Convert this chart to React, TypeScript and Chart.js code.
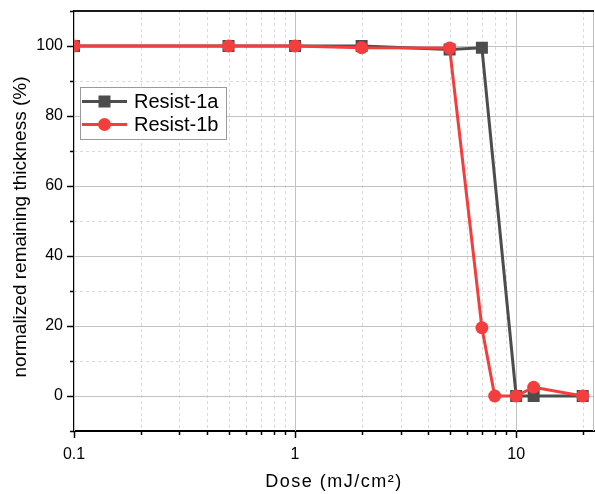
import React, { useEffect, useRef } from 'react';
import { Chart, registerables } from 'chart.js';

Chart.register(...registerables);

// Dose (mJ/cm2) and normalized remaining thickness (%) for each resist
const doseA = [0.1, 0.5, 1, 2, 5, 7, 10, 12, 20];
const thickA = [100, 100, 100, 100, 99, 99.5, 0, 0, 0];
const doseB = [0.1, 0.5, 1, 2, 5, 7, 8, 10, 12, 20];
const thickB = [100, 100, 100, 99.5, 99.4, 19.5, 0, 0, 2.5, 0];
const seriesNames = ['Resist-1a', 'Resist-1b'];
const seriesColors = ['#4d4d4d', '#f43d3d'];

const xTickLabels = [0.1, 1, 10];
const yTickLabels = [0, 20, 40, 60, 80, 100];
const xTitle = 'Dose (mJ/cm²)';
const yTitle = 'normalized remaining thickness (%)';

const X_MIN = 0.1;
const X_MAX = 22.5;
const Y_MIN = -10;
const Y_MAX = 110;

const FONT = "'Liberation Sans', Arial, sans-serif";

const isDecade = (v: number) => xTickLabels.some((d) => Math.abs(d - v) / d < 1e-6);
const isMajorY = (v: number) => yTickLabels.includes(v);

// Log-axis positions 1..9 x 10^n inside the axis range
function logPositions(): number[] {
  const out: number[] = [];
  for (let e = -1; e <= 1; e++) {
    for (let k = 1; k <= 9; k++) {
      const v = Number((k * Math.pow(10, e)).toPrecision(6));
      if (v >= X_MIN && v <= X_MAX) out.push(v);
    }
  }
  return out;
}

function linPositions(): number[] {
  const out: number[] = [];
  for (let v = Y_MIN; v <= Y_MAX; v += 10) out.push(v);
  return out;
}

const zeroPadding = (s: any) => {
  s.paddingLeft = 0;
  s.paddingRight = 0;
  s.paddingTop = 0;
  s.paddingBottom = 0;
};

const framePlugin = {
  id: 'frame',
  beforeDatasetsDraw(chart: any) {
    const { ctx, chartArea: a, scales } = chart;
    const x = scales.x;
    const y = scales.y;
    ctx.save();
    ctx.lineWidth = 1;

    // dashed minor grid
    ctx.strokeStyle = '#dadada';
    ctx.setLineDash([3, 3]);
    logPositions().forEach((v) => {
      if (isDecade(v)) return;
      const px = Math.round(x.getPixelForValue(v)) + 0.5;
      ctx.beginPath();
      ctx.moveTo(px, a.top);
      ctx.lineTo(px, a.bottom);
      ctx.stroke();
    });
    linPositions().forEach((v) => {
      if (isMajorY(v) || v === Y_MIN || v === Y_MAX) return;
      const py = Math.round(y.getPixelForValue(v)) + 0.5;
      ctx.beginPath();
      ctx.moveTo(a.left, py);
      ctx.lineTo(a.right, py);
      ctx.stroke();
    });

    // solid major grid
    ctx.setLineDash([]);
    ctx.strokeStyle = '#c2c2c2';
    xTickLabels.forEach((v) => {
      const px = Math.round(x.getPixelForValue(v)) + 0.5;
      ctx.beginPath();
      ctx.moveTo(px, a.top);
      ctx.lineTo(px, a.bottom);
      ctx.stroke();
    });
    yTickLabels.forEach((v) => {
      const py = Math.round(y.getPixelForValue(v)) + 0.5;
      ctx.beginPath();
      ctx.moveTo(a.left, py);
      ctx.lineTo(a.right, py);
      ctx.stroke();
    });

    // right frame edge
    ctx.strokeStyle = '#bdbdbd';
    ctx.beginPath();
    ctx.moveTo(a.right - 0.5, a.top);
    ctx.lineTo(a.right - 0.5, a.bottom);
    ctx.stroke();
    ctx.restore();
  },
  afterDraw(chart: any) {
    const { ctx, chartArea: a, scales } = chart;
    const x = scales.x;
    const y = scales.y;
    ctx.save();

    // top frame edge
    ctx.strokeStyle = '#1a1a1a';
    ctx.lineWidth = 2;
    ctx.beginPath();
    ctx.moveTo(a.left, a.top);
    ctx.lineTo(a.right, a.top);
    ctx.stroke();

    // outward tick marks
    ctx.strokeStyle = '#000';
    ctx.lineWidth = 1.5;
    logPositions().forEach((v) => {
      const px = Math.round(x.getPixelForValue(v)) + 0.5;
      const len = isDecade(v) ? 7 : 4;
      ctx.beginPath();
      ctx.moveTo(px, a.bottom);
      ctx.lineTo(px, a.bottom + len);
      ctx.stroke();
    });
    linPositions().forEach((v) => {
      const py = Math.round(y.getPixelForValue(v)) + 0.5;
      const len = isMajorY(v) ? 7 : 4;
      ctx.beginPath();
      ctx.moveTo(a.left, py);
      ctx.lineTo(a.left - len, py);
      ctx.stroke();
    });

    // axis titles
    ctx.fillStyle = '#000';
    ctx.textAlign = 'center';
    ctx.textBaseline = 'middle';
    ctx.save();
    ctx.font = `18px ${FONT}`;
    (ctx as any).letterSpacing = '1.5px';
    ctx.fillText(xTitle, (a.left + a.right) / 2, 482);
    ctx.restore();
    ctx.save();
    ctx.font = `19px ${FONT}`;
    ctx.translate(21, 227);
    ctx.rotate(-Math.PI / 2);
    ctx.fillText(yTitle, 0, 0);
    ctx.restore();

    // legend
    const bx = 80.5;
    const by = 87.5;
    const bw = 146;
    const bh = 52;
    ctx.fillStyle = '#fff';
    ctx.fillRect(bx, by, bw, bh);
    ctx.strokeStyle = '#9a9a9a';
    ctx.lineWidth = 1;
    ctx.strokeRect(bx, by, bw, bh);
    const rows = [101.5, 124.5];
    rows.forEach((ry, i) => {
      ctx.strokeStyle = seriesColors[i];
      ctx.lineWidth = 3;
      ctx.beginPath();
      ctx.moveTo(82, ry);
      ctx.lineTo(127, ry);
      ctx.stroke();
      ctx.fillStyle = seriesColors[i];
      if (i === 0) {
        ctx.fillRect(104.5 - 6, ry - 6, 12, 12);
      } else {
        ctx.beginPath();
        ctx.arc(104.5, ry, 6.5, 0, Math.PI * 2);
        ctx.fill();
      }
      ctx.fillStyle = '#000';
      ctx.font = `20px ${FONT}`;
      ctx.textAlign = 'left';
      ctx.textBaseline = 'middle';
      ctx.fillText(seriesNames[i], 134, ry + 1);
    });
    ctx.restore();
  },
};

export default function App() {
  const canvasRef = useRef<HTMLCanvasElement | null>(null);

  useEffect(() => {
    const canvas = canvasRef.current;
    if (!canvas) return;
    const chart = new Chart(canvas, {
      type: 'line',
      data: {
        datasets: [
          {
            label: seriesNames[0],
            data: doseA.map((d, i) => ({ x: d, y: thickA[i] })),
            borderColor: seriesColors[0],
            backgroundColor: seriesColors[0],
            borderWidth: 3,
            pointStyle: 'rect',
            pointRadius: 8.5,
            pointBorderWidth: 0,
            tension: 0,
            order: 1,
          },
          {
            label: seriesNames[1],
            data: doseB.map((d, i) => ({ x: d, y: thickB[i] })),
            borderColor: seriesColors[1],
            backgroundColor: seriesColors[1],
            borderWidth: 3,
            pointStyle: 'circle',
            pointRadius: 6.5,
            pointBorderWidth: 0,
            tension: 0,
            order: 0,
          },
        ],
      },
      options: {
        responsive: false,
        animation: false,
        devicePixelRatio: 1,
        layout: { autoPadding: false, padding: { top: 11, right: 1, left: 0, bottom: 0 } },
        plugins: {
          legend: { display: false },
          tooltip: { enabled: false },
        },
        scales: {
          x: {
            type: 'logarithmic',
            min: X_MIN,
            max: X_MAX,
            afterFit: (s: any) => {
              s.height = 63;
              zeroPadding(s);
            },
            grid: { display: false, drawTicks: false },
            border: { display: true, color: '#000', width: 2 },
            ticks: {
              autoSkip: false,
              maxRotation: 0,
              padding: 14,
              color: '#000',
              font: { family: FONT, size: 16 },
              callback: (v: any) => {
                const n = Number(v);
                return isDecade(n) ? String(xTickLabels.find((d) => Math.abs(d - n) / d < 1e-6)) : '';
              },
            },
          },
          y: {
            type: 'linear',
            min: Y_MIN,
            max: Y_MAX,
            afterFit: (s: any) => {
              s.width = 74;
              zeroPadding(s);
            },
            grid: { display: false, drawTicks: false },
            border: { display: true, color: '#000', width: 2 },
            ticks: {
              stepSize: 10,
              padding: 11,
              color: '#000',
              font: { family: FONT, size: 16 },
              callback: (v: any) => (isMajorY(Number(v)) ? String(v) : ''),
            },
          },
        },
      },
      plugins: [framePlugin],
    } as any);
    return () => chart.destroy();
  }, []);

  return (
    <div style={{ position: 'absolute', left: 0, top: 0, width: 595, height: 494, background: '#fff' }}>
      <canvas ref={canvasRef} width={595} height={494} />
    </div>
  );
}
